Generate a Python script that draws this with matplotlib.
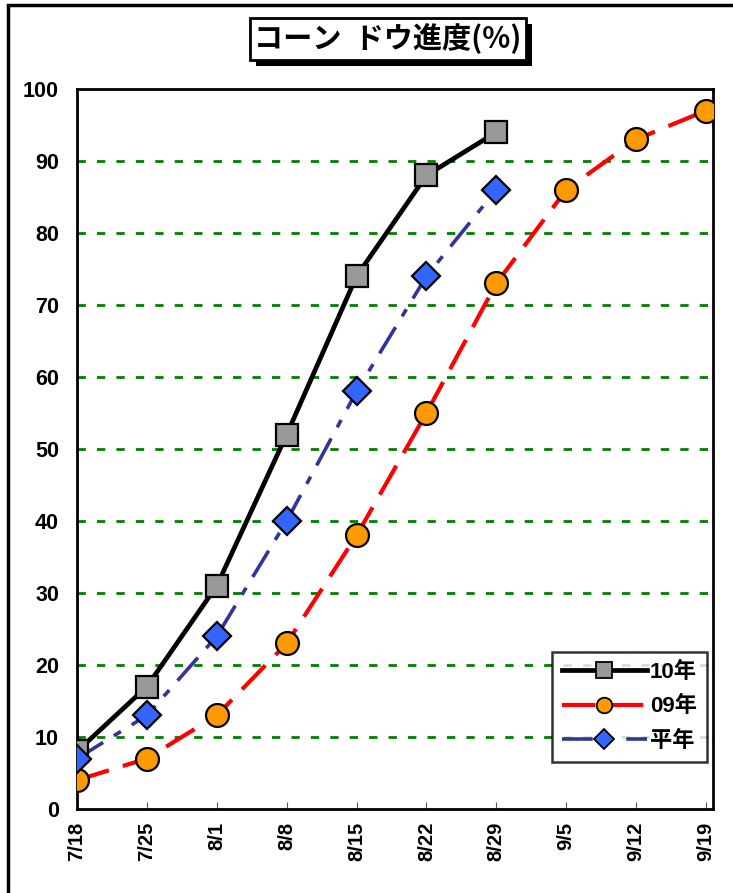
import numpy as np
import matplotlib
matplotlib.use("Agg")
import matplotlib.pyplot as plt
from matplotlib.lines import Line2D
from matplotlib.patches import Rectangle

plt.rcParams['font.family'] = ['Liberation Sans', 'Noto Sans CJK JP', 'DejaVu Sans']

################################### Data ######################################

dates   = ['7/18', '7/25', '8/1', '8/8', '8/15', '8/22', '8/29', '9/5', '9/12', '9/19']
y2010   = [8, 17, 31, 52, 74, 88, 94]
y2009   = [4, 7, 13, 23, 38, 55, 73, 86, 93, 97]
normal  = [7, 13, 24, 40, 58, 74, 86]
labels  = ['10年', '09年', '平年']
title   = 'コーン  ドウ進度(%)'

################################# Plot #########################################

fig = plt.figure(figsize=(7.33, 8.93), dpi=100)
ax = fig.add_axes([77 / 733, 1 - 809 / 893, (713 - 77) / 733, (809 - 89) / 893])

series = [
    (y2010, 'black', '-', 's', '#999999', 16.5, 3.4),
    (y2009, '#FF0000', (0, (8, 3.5)), 'o', '#FF9900', 16.5, 3.0),
    (normal, '#333399', (0, (8.5, 3.5, 2.3, 3.5)), 'D', '#3366FF', 14.5, 2.6),
]

handles = []
for (vals, lc, ls, mk, mc, ms, lw), lab in zip(series, labels):
    x = np.arange(len(vals))
    ax.plot(x, vals, color=lc, linestyle=ls, lw=lw, zorder=3)
    ax.plot(x, vals, linestyle='none', marker=mk, markersize=ms,
            markerfacecolor=mc, markeredgecolor='black', markeredgewidth=1.6, zorder=4)
    handles.append(Line2D([], [], color=lc, linestyle=ls, lw=lw, marker=mk,
                          markersize=ms * 0.68, markerfacecolor=mc,
                          markeredgecolor='black', markeredgewidth=1.3))

ax.set_xlim(0, 9.1)
ax.set_ylim(0, 100)
ax.set_yticks(np.arange(0, 101, 10))
ax.set_xticks(np.arange(len(dates)))
ax.set_xticklabels(dates, rotation=90, fontsize=14.5, fontweight='bold')
for t in ax.get_yticklabels():
    t.set_fontsize(15.5)
    t.set_fontweight('bold')
ax.tick_params(axis='y', length=0, pad=13)
ax.tick_params(axis='x', direction='in', length=5, color='#555555', pad=9)

for v in range(10, 100, 10):
    ax.axhline(v, color='#008000', linestyle=(0, (3, 4)), lw=2, zorder=1)

for s in ax.spines.values():
    s.set_linewidth(2)

leg = ax.legend(handles, labels, loc='lower right', bbox_to_anchor=(1.008, 0.05),
                prop={'size': 16, 'weight': 'bold'}, handlelength=3.8,
                frameon=True, fancybox=False, edgecolor='black',
                borderpad=0.45, labelspacing=0.6, handletextpad=0.15)
leg.get_frame().set_linewidth(1.8)

# title with shadowed box
bx0, by0, bw, bh = 250 / 733, 1 - 60 / 893, 276 / 733, 42 / 893
fig.patches.append(Rectangle((bx0 + 6 / 733, by0 - 6 / 893), bw, bh,
                             transform=fig.transFigure, facecolor='black', zorder=1))
fig.patches.append(Rectangle((bx0, by0), bw, bh, transform=fig.transFigure,
                             facecolor='white', edgecolor='black', lw=2, zorder=2))
fig.text(bx0 + bw / 2, by0 + bh / 2, title, ha='center', va='center', fontsize=21,
         fontweight='bold', family=['Noto Sans CJK JP', 'DejaVu Sans'], zorder=3)

# outer frame
fig.patches.append(Rectangle((8 / 733, -0.1), 1.2, (893 - 5) / 893 + 0.1,
                             transform=fig.transFigure, fill=False, edgecolor='black', lw=2.5))

fig.savefig('out.png', dpi=100)
